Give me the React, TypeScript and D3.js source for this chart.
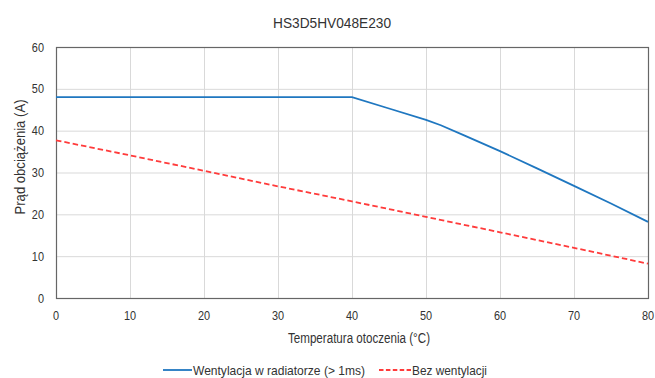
import { useEffect, useRef } from 'react'
import * as d3 from 'd3'

const TITLE = 'HS3D5HV048E230'
const X_LABEL = 'Temperatura otoczenia (°C)'
const Y_LABEL = 'Prąd obciążenia (A)'
const X_TICKS = [0, 10, 20, 30, 40, 50, 60, 70, 80]
const Y_TICKS = [0, 10, 20, 30, 40, 50, 60]

// Wentylacja w radiatorze (> 1ms)
const FAN_NAME = 'Wentylacja w radiatorze (> 1ms)'
const FAN_T = [0, 40, 45, 50, 52, 55, 60, 65, 70, 75, 80]
const FAN_A = [48, 48, 45.3, 42.6, 41.3, 39.0, 35.1, 31, 26.8, 22.6, 18.2]

// Bez wentylacji
const NOFAN_NAME = 'Bez wentylacji'
const NOFAN_T = [0, 10, 20, 30, 40, 50, 60, 70, 80]
const NOFAN_A = [37.7, 34.1, 30.4, 26.7, 23.1, 19.4, 15.7, 12, 8.2]

const FONT = '"Liberation Sans", Arial, sans-serif'
const INK = '#333'
const BLUE = '#1f77c0'
const RED = '#ff3b3b'

const W = 655
const H = 378
const PLOT = { left: 56, right: 648, top: 47, bottom: 298 }

export default function App() {
  const svgRef = useRef<SVGSVGElement>(null)

  useEffect(() => {
    const svgEl = svgRef.current
    if (!svgEl) return
    d3.select(svgEl).selectAll('*').remove()
    const svg = d3.select(svgEl)

    const x = d3.scaleLinear().domain([0, 80]).range([PLOT.left, PLOT.right])
    const y = d3.scaleLinear().domain([0, 60]).range([PLOT.bottom, PLOT.top])

    svg.append('rect').attr('width', W).attr('height', H).attr('fill', '#fff')

    // Grid
    svg.append('g')
      .selectAll('line')
      .data(Y_TICKS)
      .join('line')
      .attr('x1', x(0)).attr('x2', x(80))
      .attr('y1', d => y(d) + 0.5).attr('y2', d => y(d) + 0.5)
      .attr('stroke', '#d9d9d9').attr('stroke-width', 1)

    svg.append('g')
      .selectAll('line')
      .data(X_TICKS)
      .join('line')
      .attr('x1', d => x(d) + 0.5).attr('x2', d => x(d) + 0.5)
      .attr('y1', y(0)).attr('y2', y(60))
      .attr('stroke', '#d9d9d9').attr('stroke-width', 1)

    // Frame
    svg.append('rect')
      .attr('x', x(0) + 0.5).attr('y', y(60) + 0.5)
      .attr('width', x(80) - x(0)).attr('height', y(0) - y(60))
      .attr('fill', 'none').attr('stroke', '#666').attr('stroke-width', 1.2)

    // Tick labels (narrow face)
    svg.append('g')
      .selectAll('text')
      .data(Y_TICKS)
      .join('text')
      .attr('transform', d => `translate(44,${y(d) + 4.5}) scale(0.84,1)`)
      .attr('text-anchor', 'end')
      .attr('font-family', FONT).attr('font-size', 13).attr('fill', INK)
      .text(d => d)

    svg.append('g')
      .selectAll('text')
      .data(X_TICKS)
      .join('text')
      .attr('transform', d => `translate(${x(d)},${y(0) + 21.5}) scale(0.84,1)`)
      .attr('text-anchor', 'middle')
      .attr('font-family', FONT).attr('font-size', 13).attr('fill', INK)
      .text(d => d)

    // Lines
    const line = d3.line<[number, number]>().x(d => x(d[0])).y(d => y(d[1]))

    svg.append('path')
      .attr('d', line(NOFAN_T.map((t, i) => [t, NOFAN_A[i]])))
      .attr('fill', 'none').attr('stroke', RED).attr('stroke-width', 1.8)
      .attr('stroke-dasharray', '5.5 3')

    svg.append('path')
      .attr('d', line(FAN_T.map((t, i) => [t, FAN_A[i]])))
      .attr('fill', 'none').attr('stroke', BLUE).attr('stroke-width', 1.8)

    // Titles
    const label = (txt: string, xx: number, yy: number, size: number, len: number, anchor = 'start') =>
      svg.append('text')
        .attr('x', xx).attr('y', yy)
        .attr('text-anchor', anchor)
        .attr('font-family', FONT).attr('font-size', size).attr('fill', INK)
        .attr('textLength', len).attr('lengthAdjust', 'spacingAndGlyphs')
        .text(txt)

    label(TITLE, 332, 28, 15.5, 118, 'middle')
    label(X_LABEL, 359, 342.5, 14, 142, 'middle')

    svg.append('text')
      .attr('transform', `translate(25,157) rotate(-90)`)
      .attr('text-anchor', 'middle')
      .attr('font-family', FONT).attr('font-size', 14).attr('fill', INK)
      .attr('textLength', 115).attr('lengthAdjust', 'spacingAndGlyphs')
      .text(Y_LABEL)

    // Legend
    const ly = 370
    svg.append('line')
      .attr('x1', 163).attr('x2', 192).attr('y1', ly).attr('y2', ly)
      .attr('stroke', BLUE).attr('stroke-width', 1.8)
    label(FAN_NAME, 193, ly + 4.5, 13, 172)

    svg.append('line')
      .attr('x1', 379).attr('x2', 411).attr('y1', ly).attr('y2', ly)
      .attr('stroke', RED).attr('stroke-width', 1.8).attr('stroke-dasharray', '4.5 2.4')
    label(NOFAN_NAME, 412, ly + 4.5, 13, 75)
  }, [])

  return (
    <div style={{ position: 'absolute', left: 0, top: 0 }}>
      <svg ref={svgRef} width={W} height={H} style={{ display: 'block' }} />
    </div>
  )
}
